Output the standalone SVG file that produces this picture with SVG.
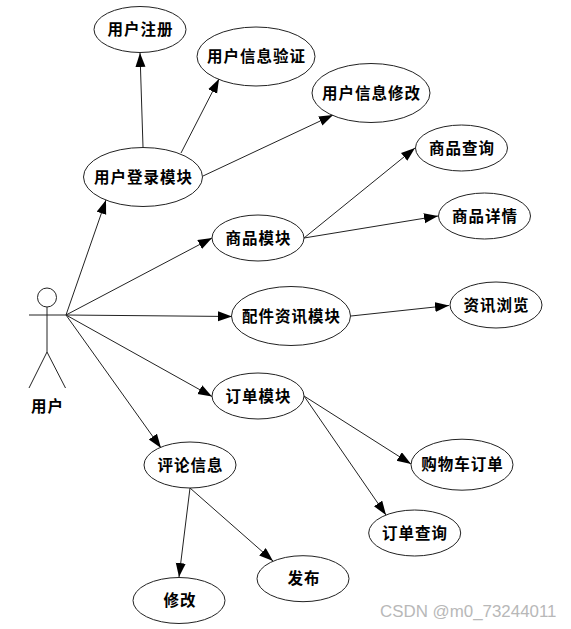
<svg xmlns="http://www.w3.org/2000/svg" width="571" height="629" viewBox="0 0 571 629">
<style>
.n ellipse{fill:#fff;stroke:#222;stroke-width:1}
text{font-family:"Noto Sans CJK SC","Noto Sans CJK JP",sans-serif;font-size:15.5px;font-weight:700;fill:#000;text-anchor:middle;letter-spacing:1px}
#connectors line{stroke:#222;stroke-width:1;marker-end:url(#a)}
#actor line,#actor circle{stroke:#222;stroke-width:1;fill:#fff}
#watermark{font-family:"Liberation Sans",sans-serif;font-size:16.9px;font-weight:400;fill:#b8b8b8;text-anchor:start;letter-spacing:0}
</style>
<defs>
<marker id="a" markerUnits="userSpaceOnUse" markerWidth="15" markerHeight="11" refX="14" refY="5" orient="auto"><path d="M0 0L14 5L0 10Z" fill="#000"/></marker>
</defs>
<rect width="571" height="629" fill="#fff"/>
<g id="connectors">
<line x1="66" y1="315" x2="106" y2="200"/>
<line x1="66" y1="315" x2="212" y2="238"/>
<line x1="66" y1="315" x2="232" y2="316.5"/>
<line x1="66" y1="315" x2="212" y2="396.5"/>
<line x1="66" y1="315" x2="161" y2="448"/>
<line x1="143" y1="147" x2="140" y2="53"/>
<line x1="181" y1="153" x2="219" y2="79"/>
<line x1="203" y1="176" x2="333" y2="115"/>
<line x1="304" y1="238" x2="415" y2="148"/>
<line x1="304" y1="238" x2="438" y2="216"/>
<line x1="351" y1="316" x2="449" y2="305.5"/>
<line x1="304" y1="396" x2="411" y2="464"/>
<line x1="304" y1="396" x2="386" y2="515"/>
<line x1="190" y1="488" x2="179" y2="577"/>
<line x1="190" y1="488" x2="273" y2="561"/>
</g>
<g id="actor">
<circle cx="47" cy="297.5" r="9.5"/>
<line x1="29" y1="315" x2="66" y2="315"/>
<line x1="47" y1="307" x2="47" y2="352"/>
<line x1="47" y1="352" x2="29" y2="388"/>
<line x1="47" y1="352" x2="65.5" y2="388"/>
<text x="47.5" y="412">用户</text>
</g>
<g id="n1" class="n"><ellipse cx="140" cy="29.5" rx="46" ry="23"/><text x="140.5" y="35">用户注册</text></g>
<g id="n2" class="n"><ellipse cx="256" cy="56.5" rx="59" ry="29.5"/><text x="256.5" y="62">用户信息验证</text></g>
<g id="n3" class="n"><ellipse cx="371" cy="93" rx="59" ry="29.5"/><text x="371.5" y="98.5">用户信息修改</text></g>
<g id="n4" class="n"><ellipse cx="143" cy="177" rx="59.5" ry="29.5"/><text x="143.5" y="182.5">用户登录模块</text></g>
<g id="n5" class="n"><ellipse cx="258" cy="238" rx="46" ry="23"/><text x="258.5" y="243.5">商品模块</text></g>
<g id="n6" class="n"><ellipse cx="461.5" cy="148" rx="46" ry="23"/><text x="462" y="153.5">商品查询</text></g>
<g id="n7" class="n"><ellipse cx="484.5" cy="216" rx="46" ry="23"/><text x="485" y="221.5">商品详情</text></g>
<g id="n8" class="n"><ellipse cx="291" cy="316" rx="59.5" ry="29.5"/><text x="291.5" y="321.5">配件资讯模块</text></g>
<g id="n9" class="n"><ellipse cx="496" cy="305" rx="46" ry="23"/><text x="496.5" y="310.5">资讯浏览</text></g>
<g id="n10" class="n"><ellipse cx="258" cy="396" rx="46" ry="23"/><text x="258.5" y="402">订单模块</text></g>
<g id="n11" class="n"><ellipse cx="190" cy="465" rx="46" ry="23"/><text x="190.5" y="470.5">评论信息</text></g>
<g id="n12" class="n"><ellipse cx="179" cy="600.5" rx="46" ry="23"/><text x="180" y="606">修改</text></g>
<g id="n13" class="n"><ellipse cx="303" cy="578.7" rx="46" ry="23"/><text x="304" y="584">发布</text></g>
<g id="n14" class="n"><ellipse cx="462" cy="464.7" rx="51" ry="25.5"/><text x="462.5" y="470">购物车订单</text></g>
<g id="n15" class="n"><ellipse cx="414.7" cy="533" rx="46" ry="23"/><text x="415" y="538.5">订单查询</text></g>
<text id="watermark" x="380" y="617">CSDN @m0_73244011</text>
</svg>
